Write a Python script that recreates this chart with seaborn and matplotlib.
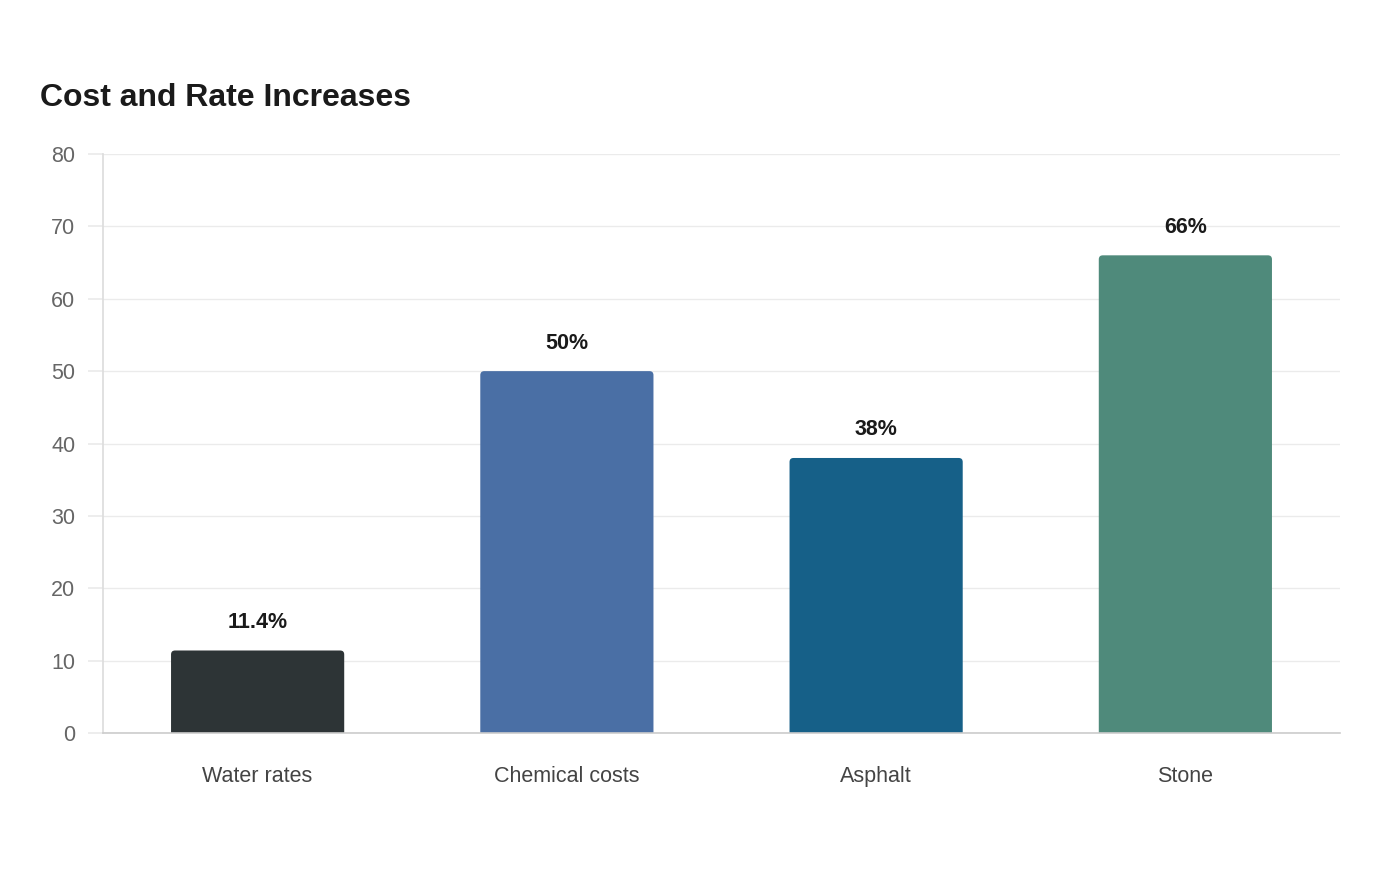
import pandas as pd
import matplotlib.pyplot as plt
import seaborn as sns
from matplotlib.patches import FancyBboxPatch

# Data
categories = ["Water rates", "Chemical costs", "Asphalt", "Stone"]
increases = [11.4, 50, 38, 66]
labels = ["11.4%", "50%", "38%", "66%"]
colors = ["#2d3436", "#4a6fa5", "#166088", "#4f8a7b"]

sns.set_theme(style="white")
plt.rcParams['font.family'] = ['Liberation Sans', 'DejaVu Sans']

df = pd.DataFrame({"category": categories, "value": increases})

fig = plt.figure(figsize=(14, 8.8), dpi=100)
ax = fig.add_axes([103 / 1400, 1 - 733 / 880, (1340 - 103) / 1400, (733 - 154) / 880])

sns.barplot(data=df, x="category", y="value", hue="category", palette=colors,
            legend=False, width=0.56, ax=ax, saturation=1)

ax.set_ylim(0, 80)
ax.set_xlim(-0.5, 3.5)

# rounded top corners: swap rectangles for fancy boxes
px_x = 1237 / 4.0
px_y = 579 / 80.0
r = 4 / px_x
aspect = px_x / px_y
for p in list(ax.patches):
    x, w, h, fc = p.get_x(), p.get_width(), p.get_height(), p.get_facecolor()
    p.remove()
    fb = FancyBboxPatch((x, -2), w, h + 2,
                        boxstyle=f"round,pad=0,rounding_size={r}",
                        mutation_aspect=aspect, facecolor=fc, edgecolor="none",
                        zorder=2)
    ax.add_patch(fb)

for i, (v, lab) in enumerate(zip(increases, labels)):
    ax.annotate(lab, (i, v), xytext=(0, 20.2), textcoords="offset points",
                ha="center", va="center", fontsize=15.5, fontweight="bold",
                color="#1a1a1a")

ax.set_yticks(range(0, 81, 10))
ax.grid(axis="y", color="#ebebeb", linewidth=1, zorder=0)
ax.set_axisbelow(True)
for s in ["top", "right"]:
    ax.spines[s].set_visible(False)
ax.spines["left"].set_color("#dddddd")
ax.spines["bottom"].set_color("#cccccc")
ax.spines["bottom"].set_linewidth(1.2)
ax.tick_params(axis="y", length=11, color="#ebebeb", labelsize=15.5,
               labelcolor="#666666", pad=9, left=True)
ax.tick_params(axis="x", length=0, labelsize=15.5, labelcolor="#444444", pad=24)
ax.set_xlabel("")
ax.set_ylabel("")

fig.text(40 / 1400, 1 - 98 / 880, "Cost and Rate Increases", fontsize=23,
         fontweight="bold", color="#1a1a1a", va="center", ha="left")

fig.savefig("out.png", dpi=100, facecolor="white")
